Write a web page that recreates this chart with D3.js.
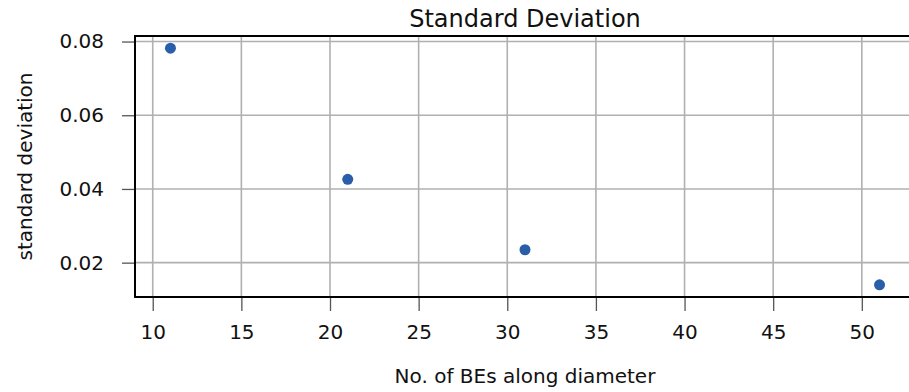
<!DOCTYPE html>
<html>
<head>
<meta charset="utf-8">
<script src="https://cdn.jsdelivr.net/npm/d3@7"></script>
<style>
  body { margin: 0; background: #fff; }
  svg { display: block; font-family: "DejaVu Sans", sans-serif; }
</style>
</head>
<body>
<svg id="drawing_region"></svg>
<script>
// values
const elements = [11, 21, 31, 51];
const std_dev = [0.0782, 0.0426, 0.0235, 0.0140];
const xticks = [10, 15, 20, 25, 30, 35, 40, 45, 50];
const yticks = [0.02, 0.04, 0.06, 0.08];

const config = {
    width: 909,
    height: 392,
    margin: {top: 36, left: 135},
    inner_width: 780,
    inner_height: 261
};

const svg = d3.select('#drawing_region')
    .attr('width', config.width)
    .attr('height', config.height);

const chart = svg.append('g')
    .attr('transform', `translate(${config.margin.left}, ${config.margin.top})`);

const xscale = d3.scaleLinear()
    .domain([9, 53])
    .range([0, config.inner_width]);

const yscale = d3.scaleLinear()
    .domain([0.01068, 0.0815])
    .range([config.inner_height, 0]);

// grid
chart.append('g')
    .selectAll('line')
    .data(xticks)
    .join('line')
    .attr('x1', d => xscale(d)).attr('x2', d => xscale(d))
    .attr('y1', 0).attr('y2', config.inner_height)
    .attr('stroke', '#b0b0b0').attr('stroke-width', 1.6);

chart.append('g')
    .selectAll('line')
    .data(yticks)
    .join('line')
    .attr('x1', 0).attr('x2', config.inner_width)
    .attr('y1', d => yscale(d)).attr('y2', d => yscale(d))
    .attr('stroke', '#b0b0b0').attr('stroke-width', 1.6);

// axes
const xaxis = d3.axisBottom(xscale)
    .tickValues(xticks)
    .tickSizeOuter(0)
    .tickSize(14)
    .tickPadding(14)
    .tickFormat(d3.format('d'));

const yaxis = d3.axisLeft(yscale)
    .tickValues(yticks)
    .tickSizeOuter(0)
    .tickSize(13)
    .tickPadding(18)
    .tickFormat(d3.format('.2f'));

const xaxis_group = chart.append('g')
    .attr('transform', `translate(0, ${config.inner_height})`)
    .call(xaxis);

const yaxis_group = chart.append('g')
    .call(yaxis);

[xaxis_group, yaxis_group].forEach(g => {
    g.select('.domain').remove();
    g.selectAll('.tick line').attr('stroke', '#555').attr('stroke-width', 1.3);
    g.selectAll('.tick text')
        .attr('fill', '#111')
        .style('font-size', '20px')
        .style('font-family', '"DejaVu Sans", sans-serif');
});

// spines (left, top, bottom)
chart.append('path')
    .attr('d', `M${config.inner_width},0H0V${config.inner_height}H${config.inner_width}`)
    .attr('fill', 'none')
    .attr('stroke', '#000')
    .attr('stroke-width', 2);

// points
chart.append('g')
    .selectAll('circle')
    .data(elements)
    .join('circle')
    .attr('cx', d => xscale(d))
    .attr('cy', (d, i) => yscale(std_dev[i]))
    .attr('r', 5.5)
    .attr('fill', '#2b5ea9');

// title and labels
svg.append('text')
    .attr('x', config.margin.left + config.inner_width / 2)
    .attr('y', 27)
    .attr('text-anchor', 'middle')
    .style('font-size', '24px')
    .attr('fill', '#111')
    .text('Standard Deviation');

svg.append('text')
    .attr('x', config.margin.left + config.inner_width / 2)
    .attr('y', 383)
    .attr('text-anchor', 'middle')
    .style('font-size', '20px')
    .attr('fill', '#111')
    .text('No. of BEs along diameter');

svg.append('text')
    .attr('transform', `translate(32, ${config.margin.top + config.inner_height / 2}) rotate(-90)`)
    .attr('text-anchor', 'middle')
    .style('font-size', '20px')
    .attr('fill', '#111')
    .text('standard deviation');
</script>
</body>
</html>
